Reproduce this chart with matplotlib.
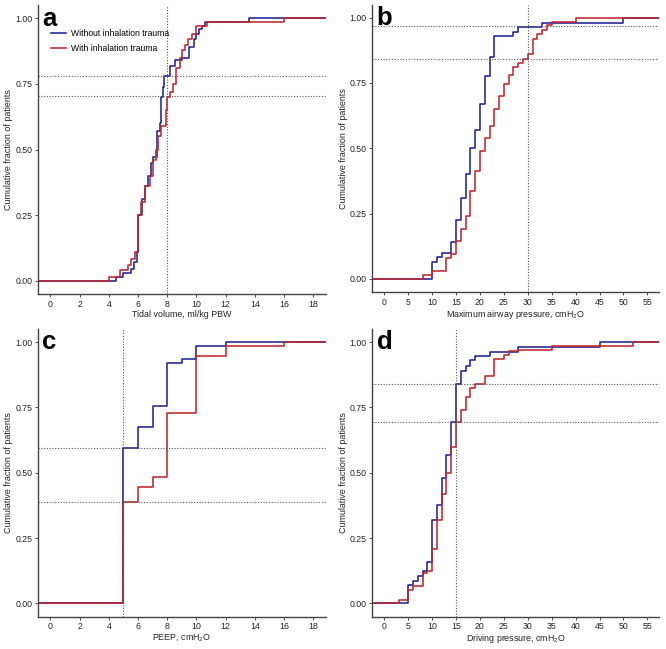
import matplotlib
matplotlib.use("Agg")
import matplotlib.pyplot as plt

plt.rcParams['font.family'] = ['Liberation Sans', 'DejaVu Sans']
plt.rcParams['mathtext.default'] = 'regular'

BLUE = '#22229a'
RED = '#c0272d'

# ECDF step points (x where the curve steps, cumulative fraction after the step)
# a: tidal volume
tv_wo_x = [4.5, 5.0, 5.5, 5.7, 5.9, 6.0, 6.3, 6.5, 6.7, 6.9, 7.0, 7.3, 7.5, 7.6, 7.7, 7.8, 8.2, 8.5, 9.0, 9.5, 9.8, 10.0, 10.2, 10.4, 10.6, 13.6]
tv_wo_y = [0.015, 0.03, 0.045, 0.07, 0.11, 0.25, 0.31, 0.36, 0.40, 0.45, 0.47, 0.57, 0.60, 0.70, 0.74, 0.78, 0.82, 0.84, 0.85, 0.89, 0.92, 0.94, 0.96, 0.97, 0.985, 1.0]
tv_w_x = [4.0, 4.8, 5.3, 5.5, 5.8, 6.0, 6.2, 6.5, 6.8, 7.0, 7.2, 7.4, 7.6, 7.9, 8.0, 8.2, 8.4, 8.6, 8.9, 9.0, 9.2, 9.4, 9.7, 10.0, 10.7, 16.0]
tv_w_y = [0.015, 0.04, 0.06, 0.085, 0.11, 0.25, 0.30, 0.36, 0.40, 0.46, 0.50, 0.55, 0.59, 0.65, 0.70, 0.72, 0.75, 0.81, 0.85, 0.88, 0.90, 0.92, 0.94, 0.97, 0.985, 1.0]

# b: maximum airway pressure
pmax_wo_x = [10, 11, 12, 14, 15, 16, 17, 18, 19, 20, 21, 22, 23, 27, 28, 33, 50]
pmax_wo_y = [0.065, 0.085, 0.10, 0.14, 0.225, 0.31, 0.40, 0.50, 0.57, 0.67, 0.775, 0.85, 0.93, 0.945, 0.965, 0.98, 1.0]
pmax_w_x = [8, 10, 13, 14, 15, 16, 17, 18, 19, 20, 21, 22, 23, 24, 25, 26, 27, 28, 29, 30, 31, 32, 33, 34, 35, 40]
pmax_w_y = [0.015, 0.03, 0.08, 0.095, 0.145, 0.19, 0.24, 0.335, 0.415, 0.49, 0.54, 0.585, 0.65, 0.70, 0.745, 0.78, 0.81, 0.828, 0.842, 0.86, 0.92, 0.937, 0.953, 0.97, 0.985, 1.0]

# c: PEEP
peep_wo_x = [5, 6, 7, 8, 9, 10, 12]
peep_wo_y = [0.595, 0.675, 0.755, 0.92, 0.935, 0.985, 1.0]
peep_w_x = [5, 6, 7, 8, 10, 12, 16]
peep_w_y = [0.39, 0.445, 0.485, 0.73, 0.945, 0.985, 1.0]

# d: driving pressure
dp_wo_x = [5, 6, 7, 8, 9, 10, 11, 12, 13, 14, 15, 16, 17, 18, 19, 22, 28, 45]
dp_wo_y = [0.07, 0.085, 0.105, 0.125, 0.16, 0.32, 0.375, 0.48, 0.57, 0.695, 0.84, 0.89, 0.91, 0.93, 0.945, 0.962, 0.982, 1.0]
dp_w_x = [3, 5, 6, 8, 9, 10, 11, 12, 13, 14, 15, 16, 17, 18, 19, 21, 23, 25, 26, 28, 35, 52]
dp_w_y = [0.015, 0.05, 0.065, 0.115, 0.125, 0.21, 0.32, 0.42, 0.50, 0.60, 0.695, 0.74, 0.79, 0.825, 0.84, 0.87, 0.935, 0.95, 0.965, 0.97, 0.985, 1.0]

panels = [
    ('a', 'Tidal volume, ml/kg PBW', tv_wo_x, tv_wo_y, tv_w_x, tv_w_y, 8, (0.78, 0.705), (-0.85, 18.85), range(0, 19, 2)),
    ('b', 'Maximum airway pressure, cmH$_2$O', pmax_wo_x, pmax_wo_y, pmax_w_x, pmax_w_y, 30, (0.968, 0.842), (-2.5, 57.5), range(0, 56, 5)),
    ('c', 'PEEP, cmH$_2$O', peep_wo_x, peep_wo_y, peep_w_x, peep_w_y, 5, (0.595, 0.39), (-0.85, 18.85), range(0, 19, 2)),
    ('d', 'Driving pressure, cmH$_2$O', dp_wo_x, dp_wo_y, dp_w_x, dp_w_y, 15, (0.84, 0.695), (-2.5, 57.5), range(0, 56, 5)),
]

# axes boxes in figure fractions
boxes = [
    [0.057, 0.547, 0.432, 0.445],
    [0.559, 0.550, 0.431, 0.443],
    [0.057, 0.050, 0.432, 0.443],
    [0.559, 0.050, 0.431, 0.443],
]

fig = plt.figure(figsize=(6.66, 6.49), dpi=100)

for (lab, xlab, x1, y1, x2, y2, vline, hlines, xlim, xticks), box in zip(panels, boxes):
    ax = fig.add_axes(box)
    for x, y, c, name in [(x1, y1, BLUE, 'Without inhalation trauma'),
                          (x2, y2, RED, 'With inhalation trauma')]:
        xs = [xlim[0]] + list(x) + [xlim[1]]
        ys = [0.0] + list(y) + [1.0]
        ax.step(xs, ys, where='post', color=c, lw=1.15, label=name)
    ax.axvline(vline, color='#555555', lw=0.8, ls=(0, (1, 1.5)))
    for h in hlines:
        ax.axhline(h, color='#555555', lw=0.8, ls=(0, (1, 1.5)))
    ax.set_xlim(xlim)
    ax.set_ylim(-0.05, 1.05)
    ax.set_xticks(list(xticks))
    ax.set_yticks([0, 0.25, 0.5, 0.75, 1.0])
    ax.set_yticklabels(['0.00', '0.25', '0.50', '0.75', '1.00'])
    ax.tick_params(labelsize=6.3, colors='#333333', length=2.5, width=0.6, pad=1.5,
                   labelcolor='#222222')
    for s in ['top', 'right']:
        ax.spines[s].set_visible(False)
    for s in ['left', 'bottom']:
        ax.spines[s].set_color('#444444')
        ax.spines[s].set_linewidth(1.0)
    ax.set_xlabel(xlab, fontsize=6.4, color='#222222', labelpad=1)
    ax.set_ylabel('Cumulative fraction of patients', fontsize=6.4, color='#222222', labelpad=1.5)
    ax.text(0.015, 0.995, lab, transform=ax.transAxes, fontsize=18.5, fontweight='bold',
            va='top', ha='left')
    if lab == 'a':
        ax.legend(loc='upper left', bbox_to_anchor=(0.02, 0.944), frameon=False, fontsize=6.2,
                  handlelength=1.65, handletextpad=0.6, labelspacing=0.7)

fig.savefig('out.png', dpi=100)
